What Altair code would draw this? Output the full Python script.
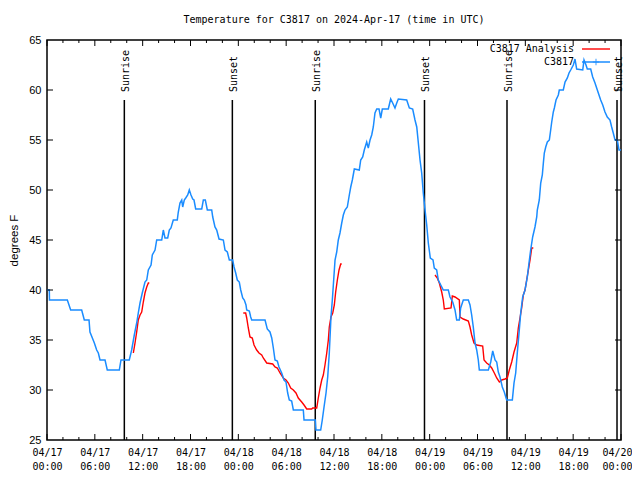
import altair as alt
import pandas as pd

TITLE = "Temperature for C3817 on 2024-Apr-17 (time in UTC)"

# Observations (hours since 04/17 00:00 UTC, deg F)
blue_h = [0, 0.29, 0.31, 2.55, 2.97, 4.35, 4.68, 5.27, 5.39, 5.69, 5.94, 6.23, 6.44, 6.65, 7.28, 7.56,
          9.07, 9.28, 10.32, 10.62, 10.95, 11.25, 11.45, 11.67, 11.95, 12.29, 12.51, 12.71, 13.05, 13.21,
          13.55, 13.76, 14.39, 14.59, 14.8, 15.14, 15.34, 15.55, 15.84, 16.34, 16.47, 16.68, 16.9, 17.02,
          17.22, 17.4, 17.65, 17.85, 18.06, 18.28, 18.44, 18.65, 19.41, 19.61, 19.86, 20.11, 20.66, 20.79,
          21.07, 21.29, 21.58, 22.12, 22.33, 22.62, 22.87, 23.29, 23.46, 23.67, 23.87, 24.12, 24.3, 24.55,
          24.75, 24.96, 25.05, 25.38, 25.55, 25.68, 27.35, 27.63, 27.97, 28.19, 28.39, 28.6, 28.89, 29.1,
          29.44, 29.73, 29.98, 30.19, 30.39, 30.69, 30.9, 32.15, 32.24, 33.66, 33.74, 34.33, 34.53, 34.75,
          35.0, 35.21, 35.41, 35.62, 35.79, 35.96, 36.13, 36.34, 36.54, 36.75, 36.97, 37.17, 37.38, 37.67,
          37.92, 38.1, 38.3, 38.55, 39.17, 39.35, 39.6, 39.8, 40.1, 40.3, 40.52, 40.73, 40.93, 41.14, 41.36,
          41.65, 41.86, 42.06, 42.81, 43.11, 43.36, 43.65, 43.87, 44.07, 45.12, 45.45, 45.87, 46.16, 46.38,
          46.58, 46.79, 47.0, 47.2, 47.42, 47.63, 47.83, 48.08, 48.42, 48.58, 48.88, 49.08, 49.39, 49.71,
          50.34, 50.55, 50.89, 51.18, 51.39, 51.72, 51.89, 52.22, 52.85, 53.06, 53.27, 53.47, 53.69, 53.9,
          54.1, 54.23, 55.36, 55.66, 55.91, 56.2, 56.41, 56.61, 56.82, 57.11, 57.36, 57.66, 58.37, 58.58,
          58.79, 58.99, 59.21, 59.42, 59.67, 59.96, 60.25, 60.46, 60.67, 60.92, 61.21, 61.43, 61.5, 61.75,
          61.93, 62.13, 62.26, 62.38, 62.56, 62.76, 63.01, 63.18, 63.31, 63.51, 63.64, 63.85, 64.14, 64.26,
          64.76, 64.98, 65.27, 65.48, 65.69, 66.02, 66.23, 66.44, 67.2, 67.36, 67.61, 67.77, 68.2, 68.45,
          68.74, 69.03, 69.24, 69.45, 69.71, 69.99, 70.28, 70.62, 70.83, 71.03, 71.25, 71.54, 71.75, 72.0]
blue_t = [40, 40, 39, 39, 38, 38, 37, 37, 35.8, 35.2, 34.7, 34.0, 33.7, 33, 33, 32,
          32, 33, 33, 34, 35.5, 36.7, 37.7, 38.7, 39.7, 40.8, 41, 42, 42.5, 43.5,
          44, 45, 45, 46, 45.2, 45.2, 46, 46.2, 47, 47, 47.8, 48.7, 49, 48.3,
          49, 49.2, 49.5, 50, 49.5, 49.1, 49, 48.1, 48.1, 49, 49, 48, 48, 47.3,
          46.3, 46, 45.1, 45, 44, 43.8, 43, 43, 42.3, 41.7, 41, 40.8, 40, 39.2,
          39, 38.5, 38, 37.9, 37.3, 37, 37, 36.1, 35.8, 35.2, 34.2, 33, 32.9, 32.3,
          31.7, 31, 30.8, 29.7, 29, 28.9, 28, 28, 27, 27, 26, 26, 27, 28.3,
          29.7, 31.3, 33.7, 37.3, 39, 41, 43, 43.8, 45, 45.7, 46.7, 47.5, 48, 48.3,
          49.5, 50.3, 51, 52.1, 52, 53, 53.3, 54, 54.8, 54.2, 55, 55.5, 56.3, 57.7, 58.1,
          58.1, 57.2, 58.1, 58.1, 59.1, 58.7, 58.2, 58.7, 59.1, 59, 58.2, 58.1, 57, 56.3,
          54.7, 53, 51.7, 49.7, 48, 46.5, 44.7, 43.2, 43, 42.2, 42, 41, 40.5, 40,
          40, 39.3, 38.8, 38, 37, 37, 38.2, 39, 39, 38.5, 37.5, 36.3, 34.7, 34,
          33, 32, 32, 32.8, 33.9, 33, 32.8, 31.8, 31.3, 30.3, 29.8, 29, 29, 30.7,
          31.7, 33.7, 35.7, 37.7, 39.3, 40, 41.3, 42.7, 44, 45.3, 46.3, 47.3, 48, 49,
          50.7, 51.5, 52.7, 53.7, 54.3, 54.8, 55, 56, 56.8, 57.8, 58.2, 59, 59.5, 60,
          60, 60.8, 61.2, 61.7, 62, 62.5, 63.1, 62.1, 62, 63, 62.5, 62.1, 62.1, 61.3,
          60.7, 60, 59.5, 59, 58.5, 57.8, 57.3, 57, 56.3, 55.7, 55, 55, 54, 54]

# Analysis (three separate segments)
red_h = [10.83, 11.04, 11.25, 11.45, 11.67, 11.88, 12.08, 12.29, 12.51, 12.71, 12.83,
         24.62, 24.92, 25.05, 25.25, 25.46, 25.75, 25.97, 26.3, 26.59, 26.93, 27.13, 27.56, 28.31,
         28.6, 28.89, 29.23, 29.64, 29.98, 30.27, 30.57, 30.9, 31.23, 31.52, 31.95, 32.24, 32.58,
         33.2, 33.33, 33.83, 34.03, 34.25, 34.46, 34.66, 34.87, 35.09, 35.29, 35.41, 35.62, 35.84,
         36.04, 36.21, 36.42, 36.63, 36.84, 36.97,
         48.67, 48.96, 49.21, 49.51, 49.71, 49.84, 50.68, 50.84, 51.18, 51.72, 51.81, 52.22, 52.85,
         53.06, 53.27, 53.56, 53.9, 54.65, 54.82, 55.15, 55.48, 55.78, 56.11, 56.41, 56.74, 57.04,
         57.45, 57.74, 57.99, 58.29, 58.58, 58.92, 59.12, 59.33, 59.54, 59.75, 59.96, 60.17, 60.38,
         60.59, 60.8, 61.0]
red_t = [33.7, 34.7, 35.8, 37, 37.5, 37.8, 38.8, 39.7, 40.3, 40.7, 40.7,
         37.7, 37.7, 37.2, 36.2, 35.3, 35.2, 34.5, 34, 33.7, 33.5, 33.2, 32.7, 32.6,
         32.3, 32.2, 31.7, 31.2, 31, 30.7, 30.2, 30, 29.7, 29.2, 28.8, 28.5, 28.1,
         28.1, 28.2, 28.2, 29.2, 30.2, 31, 31.5, 32.5, 33.7, 35, 36.3, 37.3, 37.7,
         38.5, 39.8, 41, 42, 42.6, 42.6,
         41.5, 41.2, 40.7, 39.8, 39, 38.1, 38.2, 39.4, 39.3, 39, 37.3, 37.1, 36.9,
         36.3, 35.5, 34.7, 34.5, 34.4, 33, 32.7, 32.5, 32.2, 31.7, 31.2, 30.8, 31,
         31.1, 31.2, 32, 32.8, 33.8, 34.7, 36.2, 37.2, 38.2, 39.5, 40, 41, 42,
         43, 44.2, 44.2]
red_seg = [1] * 11 + [2] * 45 + [3] * 42

events_h = [9.7, 23.25, 33.65, 47.35, 57.7, 71.5]
events_lbl = ["Sunrise", "Sunset", "Sunrise", "Sunset", "Sunrise", "Sunset"]

x_major = list(range(0, 73, 6))
x_minor = [h for h in range(0, 73, 2) if h % 6]
y_ticks = [30, 35, 40, 45, 50, 55, 60]
y_labels = list(range(25, 66, 5))

legend_lbl = ["C3817 Analysis", "C3817"]
legend_col = ["#ff0000", "#1a8cff"]

W, H = 574, 400
MONO = "DejaVu Sans Mono"
SANS = "Liberation Sans"
BLUE = "#1a8cff"
RED = "#ff0000"

xs = alt.Scale(domain=[0, 72], nice=False, zero=False)
ys = alt.Scale(domain=[25, 65], nice=False, zero=False)

x_axis = alt.Axis(
    values=x_major,
    labelExpr="['04/' + (17 + floor(datum.value / 24)), (datum.value % 24 < 10 ? '0' : '') + (datum.value % 24) + ':00']",
    ticks=False, domain=False, grid=False, title=None,
    labelFont=MONO, labelFontSize=10, labelColor="black",
    labelBaseline="top", labelPadding=7, labelLineHeight=14,
    labelFlush=False, labelOverlap=False,
    labelOffset={"condition": {"test": "datum.value >= 72", "value": -4}, "value": 0},
)
y_axis = alt.Axis(
    values=y_labels, ticks=False, domain=False, grid=False,
    labelFont=SANS, labelFontSize=11, labelColor="black", labelPadding=6,
    title="degrees F", titleFont=SANS, titleFontSize=11.5, titleFontWeight="normal",
    titleColor="black", titleX=-28, titleY=200, titleAngle=270,
    titleAlign="center", titleBaseline="bottom",
)

X = alt.X("h:Q", scale=xs, axis=x_axis)
Y = alt.Y("t:Q", scale=ys, axis=y_axis)

blue_df = pd.DataFrame({"h": blue_h, "t": blue_t})
red_df = pd.DataFrame({"h": red_h, "t": red_t, "seg": red_seg})
ev_df = pd.DataFrame({"h": events_h, "label": events_lbl})
xmaj_df = pd.DataFrame({"h": x_major})
xmin_df = pd.DataFrame({"h": x_minor})
yt_df = pd.DataFrame({"t": y_ticks})

ev_rules = alt.Chart(ev_df).mark_rule(color="black", strokeWidth=1.5).encode(
    x=X, y=alt.value(60), y2=alt.value(H))
ev_text = alt.Chart(ev_df).mark_text(
    angle=270, align="left", baseline="middle", dy=2, font=MONO, fontSize=10, color="black"
).encode(x=X, y=alt.value(52), text="label:N")

red_line = alt.Chart(red_df).mark_line(color=RED, strokeWidth=1.4).encode(
    x=X, y=Y, detail="seg:N", order="h:Q")
blue_line = alt.Chart(blue_df).mark_line(color=BLUE, strokeWidth=1.5).encode(
    x=X, y=Y, order="h:Q")

tick_style = dict(color="black", strokeWidth=1)
xmaj_b = alt.Chart(xmaj_df).mark_rule(**tick_style).encode(x=X, y=alt.value(H), y2=alt.value(H - 6))
xmaj_t = alt.Chart(xmaj_df).mark_rule(**tick_style).encode(x=X, y=alt.value(0), y2=alt.value(6))
xmin_b = alt.Chart(xmin_df).mark_rule(**tick_style).encode(x=X, y=alt.value(H), y2=alt.value(H - 3))
xmin_t = alt.Chart(xmin_df).mark_rule(**tick_style).encode(x=X, y=alt.value(0), y2=alt.value(3))
yt_l = alt.Chart(yt_df).mark_rule(**tick_style).encode(y=Y, x=alt.value(0), x2=alt.value(6))
yt_r = alt.Chart(yt_df).mark_rule(**tick_style).encode(y=Y, x=alt.value(W - 6), x2=alt.value(W))

# Legend (top right, label left of sample)
leg_a_txt = alt.Chart(pd.DataFrame({"l": [legend_lbl[0]]})).mark_text(
    align="right", baseline="middle", font=MONO, fontSize=10, color="black"
).encode(text="l:N", x=alt.value(527), y=alt.value(9))
leg_b_txt = alt.Chart(pd.DataFrame({"l": [legend_lbl[1]]})).mark_text(
    align="right", baseline="middle", font=MONO, fontSize=10, color="black"
).encode(text="l:N", x=alt.value(527), y=alt.value(22))
leg_a_line = alt.Chart(pd.DataFrame({"l": [legend_lbl[0]]})).mark_rule(
    color=legend_col[0], strokeWidth=1.4
).encode(x=alt.value(535), x2=alt.value(563), y=alt.value(9))
leg_b_line = alt.Chart(pd.DataFrame({"l": [legend_lbl[1]]})).mark_rule(
    color=legend_col[1], strokeWidth=1.5
).encode(x=alt.value(535), x2=alt.value(563), y=alt.value(22))
leg_b_pt = alt.Chart(pd.DataFrame({"l": [legend_lbl[1]]})).mark_point(
    shape="M-1,0L1,0M0,-1L0,1", size=40, filled=False, color=legend_col[1], strokeWidth=1.2
).encode(x=alt.value(549), y=alt.value(22))

title = alt.Chart(pd.DataFrame({"txt": [TITLE]})).mark_text(
    align="center", baseline="middle", font=MONO, fontSize=10, color="black"
).encode(text="txt:N", x=alt.value(W / 2), y=alt.value(-20))

chart = alt.layer(
    ev_rules, ev_text, red_line, blue_line,
    xmaj_b, xmaj_t, xmin_b, xmin_t, yt_l, yt_r,
    leg_a_txt, leg_b_txt, leg_a_line, leg_b_line, leg_b_pt, title,
).properties(
    width=W, height=H,
    padding={"left": 39, "top": 32, "right": 11, "bottom": 32},
    autosize=alt.AutoSizeParams(type="none"),
    background="white",
).configure_view(stroke="black", strokeWidth=1.5)

chart.save("out.html", embed_options={"renderer": "svg", "actions": False})
